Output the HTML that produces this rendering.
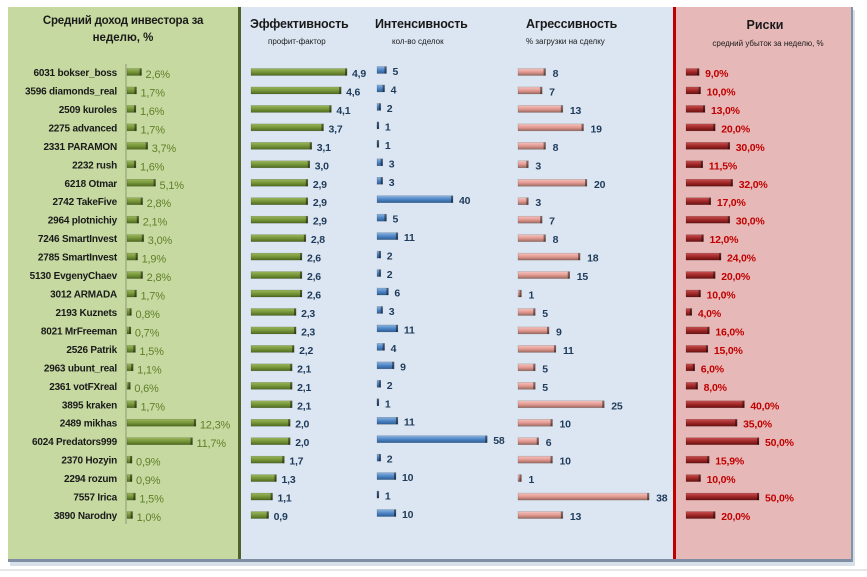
<!DOCTYPE html>
<html><head><meta charset="utf-8">
<style>
body{margin:0;background:#fff;width:867px;height:577px;overflow:hidden;font-family:"Liberation Sans",sans-serif}
svg{display:block}
text{font-family:"Liberation Sans",sans-serif}
</style></head>
<body>
<svg id="chart" width="867" height="577" viewBox="0 0 867 577">
<defs>
<linearGradient id="gG" x1="0" y1="0" x2="0" y2="1"><stop offset="0" stop-color="#9ab85a"/><stop offset="0.5" stop-color="#77963a"/><stop offset="1" stop-color="#4e6a1e"/></linearGradient>
<linearGradient id="gB" x1="0" y1="0" x2="0" y2="1"><stop offset="0" stop-color="#8ab4e0"/><stop offset="0.5" stop-color="#4f86c6"/><stop offset="1" stop-color="#2d5e96"/></linearGradient>
<linearGradient id="gP" x1="0" y1="0" x2="0" y2="1"><stop offset="0" stop-color="#f4c4bf"/><stop offset="0.5" stop-color="#e49a92"/><stop offset="1" stop-color="#9a6a60"/></linearGradient>
<linearGradient id="gR" x1="0" y1="0" x2="0" y2="1"><stop offset="0" stop-color="#c85050"/><stop offset="0.5" stop-color="#a02828"/><stop offset="1" stop-color="#6a1010"/></linearGradient>
</defs>
<rect x="10" y="10" width="845" height="556" fill="#d7dfe9"/>
<rect x="8" y="7" width="232" height="554" fill="#c6d9a0"/>
<rect x="241" y="7" width="433" height="554" fill="#dce6f2"/>
<rect x="676" y="7" width="176" height="554" fill="#e6b9b8"/>
<rect x="238" y="7" width="3" height="554" fill="#4f6228"/>
<rect x="673" y="7" width="3" height="554" fill="#c00000"/>
<rect x="8" y="559" width="844" height="3" fill="#7f8ea3"/>
<rect x="851" y="7" width="2" height="555" fill="#8093a8"/>
<line x1="0" y1="570" x2="867" y2="570" stroke="#c8ccd2"/>
<text x="123" y="24" text-anchor="middle" font-size="11.5" font-weight="bold" fill="#1a1a1a" letter-spacing="-0.2">Средний доход инвестора  за</text>
<text x="123" y="41" text-anchor="middle" font-size="11.5" font-weight="bold" fill="#1a1a1a">неделю, %</text>
<text x="250" y="28" font-size="12.5" font-weight="bold" fill="#1a1a1a" letter-spacing="-0.2">Эффективность</text>
<text x="268" y="44" font-size="8" fill="#1a1a1a">профит-фактор</text>
<text x="375" y="28" font-size="12.5" font-weight="bold" fill="#1a1a1a" letter-spacing="-0.2">Интенсивность</text>
<text x="392" y="44" font-size="8" fill="#1a1a1a">кол-во сделок</text>
<text x="526" y="28" font-size="12.5" font-weight="bold" fill="#1a1a1a" letter-spacing="-0.2">Агрессивность</text>
<text x="526" y="44" font-size="8" fill="#1a1a1a">% загрузки на сделку</text>
<text x="765" y="29" text-anchor="middle" font-size="12.5" font-weight="bold" fill="#1a1a1a">Риски</text>
<text x="768" y="46" text-anchor="middle" font-size="8" fill="#1a1a1a">средний убыток  за неделю, %</text>
<line x1="126" y1="64" x2="126" y2="524" stroke="#8a9a70"/>
<g id="marks"></g>
</svg>
<script>
const names=["6031 bokser_boss","3596 diamonds_real","2509 kuroles","2275 advanced","2331 PARAMON","2232 rush","6218 Otmar","2742 TakeFive","2964 plotnichiy","7246 SmartInvest","2785 SmartInvest","5130 EvgenyChaev","3012 ARMADA","2193 Kuznets","8021 MrFreeman","2526 Patrik","2963 ubunt_real","2361 votFXreal","3895 kraken","2489 mikhas","6024 Predators999","2370 Hozyin","2294 rozum","7557 Irica","3890 Narodny"];
const income=[2.6,1.7,1.6,1.7,3.7,1.6,5.1,2.8,2.1,3.0,1.9,2.8,1.7,0.8,0.7,1.5,1.1,0.6,1.7,12.3,11.7,0.9,0.9,1.5,1.0];
const profitFactor=[4.9,4.6,4.1,3.7,3.1,3.0,2.9,2.9,2.9,2.8,2.6,2.6,2.6,2.3,2.3,2.2,2.1,2.1,2.1,2.0,2.0,1.7,1.3,1.1,0.9];
const trades=[5,4,2,1,1,3,3,40,5,11,2,2,6,3,11,4,9,2,1,11,58,2,10,1,10];
const aggression=[8,7,13,19,8,3,20,3,7,8,18,15,1,5,9,11,5,5,25,10,6,10,1,38,13];
const risk=[9.0,10.0,13.0,20.0,30.0,11.5,32.0,17.0,30.0,12.0,24.0,20.0,10.0,4.0,16.0,15.0,6.0,8.0,40.0,35.0,50.0,15.9,10.0,50.0,20.0];
const fmt=(v,d)=>v.toFixed(d).replace('.',',');
const rowY=i=>72+i*18.46;
const g=document.getElementById('marks');
const NS='http://www.w3.org/2000/svg';
function mk(tag,attrs){const e=document.createElementNS(NS,tag);for(const k in attrs)e.setAttribute(k,attrs[k]);g.appendChild(e);return e;}
const cols=[
 {data:income,x0:127,k:5.6,fill:'url(#gG)',col:'#5f7f2a',d:1,suf:'%',name:'income',gap:4,fs:11},
 {data:profitFactor,x0:251,k:19.6,fill:'url(#gG)',col:'#1f3b5a',d:1,suf:'',name:'profit-factor',gap:5,fs:10.5},
 {data:trades,x0:377,k:1.9,fill:'url(#gB)',col:'#1f3b5a',d:0,suf:'',name:'trades',gap:6,fs:10.5,dy:-2},
 {data:aggression,x0:518,k:3.45,fill:'url(#gP)',col:'#1f3b5a',d:0,suf:'',name:'aggression',gap:7,fs:10.5},
 {data:risk,x0:686,k:1.46,fill:'url(#gR)',col:'#c00000',d:1,suf:'%',name:'risk',gap:6,fs:10.5}
];
names.forEach((n,i)=>{
 const y=rowY(i);
 const t=mk('text',{x:117,y:y+4,'text-anchor':'end','font-size':'10','font-weight':'bold',fill:'#1a1a1a','letter-spacing':'-0.2'});
 
 
 t.textContent=n;
 cols.forEach(c=>{
  const v=c.data[i];const w=Math.max(1.5,v*c.k);const yy=y+(c.dy||0);
  const r=mk('rect',{x:c.x0,y:yy-3.5,width:w,height:7,fill:c.fill,stroke:'rgba(0,0,0,0.25)','stroke-width':'0.5'});
  
  
  const e=mk('rect',{x:c.x0+w-2,y:yy-3.5,width:2,height:7,fill:'rgba(0,0,0,0.45)'});
  
  
  const l=mk('text',{x:c.x0+w+c.gap,y:yy+5+(c.name==='income'?1:0),'font-size':c.fs,'font-weight':c.name==='income'?'normal':'bold',fill:c.col,'letter-spacing':'-0.2'});
  
  
  l.textContent=fmt(v,c.d)+c.suf;
 });
});
</script>
</body></html>
